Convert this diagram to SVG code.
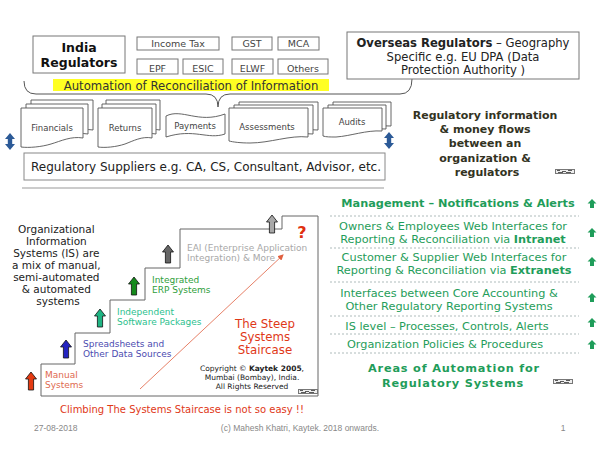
<svg xmlns="http://www.w3.org/2000/svg" width="600" height="450" viewBox="0 0 600 450">
<style>
text{font-family:"DejaVu Sans",Verdana,sans-serif;}
.box{fill:#fff;stroke:#777;stroke-width:1;}
.sm{font-size:9.5px;fill:#444;text-anchor:middle;}
.doc{fill:#fff;stroke:#555;stroke-width:0.9;}
.dl{font-size:8.5px;fill:#444;text-anchor:middle;}
.sl{font-size:9px;}
.rp{font-size:11.3px;fill:#1f9d5a;text-anchor:middle;}
.dash{stroke:#9aa;stroke-width:0.8;stroke-dasharray:2,2;}
.foot{font-family:"Liberation Sans",Arial,sans-serif;font-size:8.5px;fill:#888;}
</style>
<defs>
<path id="uparrow" d="M0,0 L5.5,7 H2.6 V18 H-2.6 V7 H-5.5 Z" stroke="#111" stroke-width="0.8"/>
<path id="garrow" d="M0,0 L4.5,4.5 H2 V9 H-2 V4.5 H-4.5 Z" fill="#1f9d5a"/>
<path id="dbl" d="M0,0 L5,6 H2.2 V11 H5 L0,17 L-5,11 H-2.2 V6 H-5 Z" fill="#2c5a97"/>
<path id="docshape" d="M0,0 H62 V30 C50,28 40,33 30,36 C20,39 8,40 0,39 Z"/>
<path id="docshape2" d="M0,0 H54 V30 C44,28 35,33 27,36 C18,39 7,40 0,39 Z"/>
<marker id="rh" markerWidth="6" markerHeight="6" refX="5" refY="3" orient="auto" markerUnits="userSpaceOnUse"><path d="M0,0 L6,3 L0,6 Z" fill="#e06040"/></marker>
<g id="logo"><rect x="0" y="0" width="20" height="5" fill="#777"/><rect x="1" y="1" width="18" height="3" fill="#eee"/><path d="M2,1.5 h3 M7,2.5 h4 M13,1.5 h4 M3,3.5 h5 M11,3.5 h5" stroke="#333" stroke-width="0.8"/></g>
</defs>

<g id="connectors">
<path d="M24,81 Q24,94 36,94 H206 Q218,94 218,107 Q218,94 230,94 H400 Q412,94 412,79" fill="none" stroke="#555" stroke-width="1"/>
<line x1="22" y1="188" x2="384" y2="188" stroke="#999" stroke-width="1"/>
<use href="#dbl" x="10" y="133"/>
<use href="#dbl" x="389" y="132"/>
</g>

<g id="india-regulators">
<rect class="box" x="33" y="36" width="92" height="37"/>
<text x="79" y="52" text-anchor="middle" font-size="12.5" font-weight="bold" fill="#111">India</text>
<text x="79" y="67" text-anchor="middle" font-size="12.5" font-weight="bold" fill="#111">Regulators</text>
</g>
<g id="income-tax"><rect class="box" x="137" y="37" width="82" height="13"/><text class="sm" x="178" y="47">Income Tax</text></g>
<g id="gst"><rect class="box" x="232" y="37" width="40" height="13"/><text class="sm" x="252" y="47">GST</text></g>
<g id="mca"><rect class="box" x="278" y="37" width="41" height="13"/><text class="sm" x="298.5" y="47">MCA</text></g>
<g id="epf"><rect class="box" x="137" y="59" width="41" height="15"/><text class="sm" x="157.5" y="71.5">EPF</text></g>
<g id="esic"><rect class="box" x="183" y="59" width="40" height="15"/><text class="sm" x="203" y="71.5">ESIC</text></g>
<g id="elwf"><rect class="box" x="232" y="59" width="41" height="15"/><text class="sm" x="252.5" y="71.5">ELWF</text></g>
<g id="others"><rect class="box" x="278" y="59" width="50" height="15"/><text class="sm" x="303" y="71.5">Others</text></g>
<g id="automation-bar">
<rect x="53" y="79" width="276" height="12" fill="#ffff22"/>
<text x="191" y="89.5" text-anchor="middle" font-size="11.7" fill="#333">Automation of Reconciliation of Information</text>
</g>

<g id="overseas-regulators">
<rect class="box" x="347" y="32" width="232" height="47"/>
<text x="463" y="47" text-anchor="middle" font-size="11.6" fill="#222"><tspan font-weight="bold">Overseas Regulators</tspan> – Geography</text>
<text x="463" y="61" text-anchor="middle" font-size="11.6" fill="#222">Specific e.g. EU DPA (Data</text>
<text x="463" y="73.5" text-anchor="middle" font-size="11.6" fill="#222">Protection Authority )</text>
</g>

<g id="financials">
<use href="#docshape" class="doc" x="31" y="100"/>
<use href="#docshape" class="doc" x="26" y="104"/>
<use href="#docshape" class="doc" x="21" y="108"/>
<text class="dl" x="52" y="131">Financials</text>
</g>
<g id="returns">
<use href="#docshape2" class="doc" x="106" y="100"/>
<use href="#docshape2" class="doc" x="102" y="104"/>
<use href="#docshape2" class="doc" x="98" y="108"/>
<text class="dl" x="125" y="131">Returns</text>
</g>
<g id="payments">
<path class="doc" d="M166,116 C182,108 198,124 225,114 V134 C208,140 194,128 166,137 Z"/>
<text class="dl" x="195" y="129">Payments</text>
</g>
<g id="assessments">
<path class="doc" d="M239,102 H318 V130 C300,128 280,137 260,137 L239,137 Z"/>
<path class="doc" d="M234,105 H313 V134 C295,132 275,140 255,140 L234,140 Z"/>
<path class="doc" d="M229,108 H308 V137 C290,135 270,143 250,143 C240,143 233,142 229,141 Z"/>
<text class="dl" x="267" y="130">Assessments</text>
</g>
<g id="audits">
<path class="doc" d="M333,102 H391 V126 C375,125 360,130 345,131 L333,131 Z"/>
<path class="doc" d="M328,105 H386 V129 C370,128 355,133 340,134 L328,134 Z"/>
<path class="doc" d="M323,108 H382 V131 C366,130 351,136 336,137 C330,137 326,137 323,136 Z"/>
<text class="dl" x="352" y="125">Audits</text>
</g>

<g id="regulatory-suppliers">
<rect x="24" y="153" width="361" height="27" fill="#fff" stroke="#888" stroke-width="1"/>
<text x="31" y="171" font-size="12" fill="#222">Regulatory Suppliers e.g. CA, CS, Consultant, Advisor, etc.</text>
</g>

<g id="flows-caption">
<text text-anchor="middle" font-size="11" font-weight="bold" fill="#33331f">
<tspan x="487" y="119">Regulatory information</tspan>
<tspan x="487" y="133">&amp; money flows</tspan>
<tspan x="487" y="147">between an</tspan>
<tspan x="487" y="162">organization &amp;</tspan>
<tspan x="487" y="176">regulators</tspan>
</text>
<use href="#logo" x="555" y="169"/>
</g>

<g id="is-caption">
<text text-anchor="middle" font-size="10.5" fill="#222">
<tspan x="58" y="233">Organizational</tspan>
<tspan x="58" y="245">Information</tspan>
<tspan x="58" y="257">Systems (IS) are</tspan>
<tspan x="58" y="269">a mix of manual,</tspan>
<tspan x="58" y="281">semi-automated</tspan>
<tspan x="58" y="293">&amp; automated</tspan>
<tspan x="58" y="305">systems</tspan>
</text>
</g>

<g id="staircase">
<path d="M41,396 H318 V216 H282 V229 H180 V268 H145 V300 H110 V333 H75 V364 H41 Z" fill="#fff" stroke="#666" stroke-width="1"/>
<line x1="140" y1="389" x2="283" y2="255" stroke="#e06040" stroke-width="0.8" marker-end="url(#rh)"/>
<use href="#uparrow" x="31" y="372" fill="#e43a12"/>
<use href="#uparrow" x="66" y="340" fill="#2323c0"/>
<use href="#uparrow" x="100" y="309" fill="#1fb483"/>
<use href="#uparrow" x="134" y="277" fill="#158a1c"/>
<use href="#uparrow" x="168" y="245" fill="#666"/>
<use href="#uparrow" x="272" y="215" fill="#a8a8a8"/>
<text class="sl" fill="#e06a50"><tspan x="45" y="378">Manual</tspan><tspan x="45" y="388">Systems</tspan></text>
<text class="sl" fill="#4b4bb0"><tspan x="83" y="347">Spreadsheets and</tspan><tspan x="83" y="356.5">Other Data Sources</tspan></text>
<text class="sl" fill="#2cbf8e"><tspan x="117" y="315">Independent</tspan><tspan x="117" y="325">Software Packages</tspan></text>
<text class="sl" fill="#2e9e3a"><tspan x="152" y="283">Integrated</tspan><tspan x="152" y="293">ERP Systems</tspan></text>
<text class="sl" fill="#a8a8a8"><tspan x="187" y="251">EAI (Enterprise Application</tspan><tspan x="187" y="261">Integration) &amp; More</tspan></text>
<text x="302" y="238" text-anchor="middle" font-size="16" font-weight="bold" fill="#e03010">?</text>
<text text-anchor="middle" font-size="11.8" fill="#e03818"><tspan x="265" y="328">The Steep</tspan><tspan x="265" y="341">Systems</tspan><tspan x="265" y="354">Staircase</tspan></text>
<text text-anchor="middle" font-size="7.5" fill="#222"><tspan x="252" y="371">Copyright © <tspan font-weight="bold">Kaytek 2005</tspan>,</tspan><tspan x="252" y="380">Mumbai (Bombay), India.</tspan><tspan x="252" y="388.5">All Rights Reserved</tspan></text>
<use href="#logo" x="298" y="389"/>
<text x="182" y="413" text-anchor="middle" font-size="10" fill="#e03818">Climbing The Systems Staircase is not so easy !!</text>
</g>

<g id="automation-areas">
<line class="dash" x1="330" y1="216" x2="579" y2="216"/>
<line class="dash" x1="330" y1="248" x2="579" y2="248"/>
<line class="dash" x1="330" y1="282" x2="579" y2="282"/>
<line class="dash" x1="330" y1="316" x2="579" y2="316"/>
<line class="dash" x1="330" y1="334" x2="579" y2="334"/>
<line class="dash" x1="330" y1="353" x2="579" y2="353"/>
<text class="rp" x="458" y="207" font-weight="bold" font-size="11.7">Management – Notifications &amp; Alerts</text>
<text class="rp"><tspan x="453" y="230">Owners &amp; Employees Web Interfaces for</tspan><tspan x="453" y="242.5">Reporting &amp; Reconciliation via <tspan font-weight="bold">Intranet</tspan></tspan></text>
<text class="rp"><tspan x="454" y="261">Customer &amp; Supplier Web Interfaces for</tspan><tspan x="454" y="274">Reporting &amp; Reconciliation via <tspan font-weight="bold">Extranets</tspan></tspan></text>
<text class="rp"><tspan x="449" y="297">Interfaces between Core Accounting &amp;</tspan><tspan x="449" y="310">Other Regulatory Reporting Systems</tspan></text>
<text class="rp" x="447" y="330">IS level – Processes, Controls, Alerts</text>
<text class="rp" x="445" y="348">Organization Policies &amp; Procedures</text>
<text class="rp" font-weight="bold" font-size="13.5" letter-spacing="0.8"><tspan x="454" y="372">Areas of Automation for</tspan><tspan x="453" y="387">Regulatory Systems</tspan></text>
<use href="#logo" x="553" y="379"/>
<use href="#garrow" x="592" y="199"/>
<use href="#garrow" x="592" y="228"/>
<use href="#garrow" x="592" y="257"/>
<use href="#garrow" x="592" y="293"/>
<use href="#garrow" x="592" y="318"/>
<use href="#garrow" x="592" y="340"/>
</g>

<g id="footer">
<text class="foot" x="34" y="431">27-08-2018</text>
<text class="foot" x="300" y="431" text-anchor="middle">(c) Mahesh Khatri, Kaytek. 2018 onwards.</text>
<text class="foot" x="563" y="431" text-anchor="middle">1</text>
</g>
</svg>
